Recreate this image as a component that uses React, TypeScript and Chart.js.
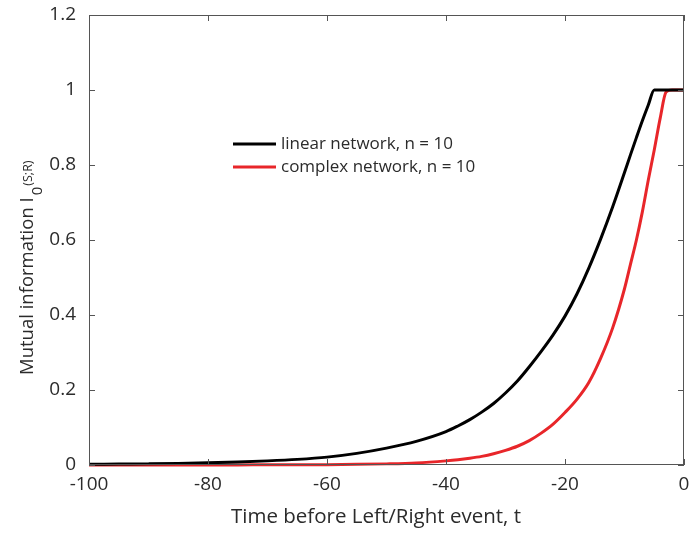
import React, { useEffect, useRef } from "react";
import { Chart, registerables } from "chart.js";

Chart.register(...registerables);

const times = [-100, -95, -90, -85, -80, -75, -70, -65, -60, -55, -50, -45, -40, -38, -36, -34, -32, -30, -28, -26, -24, -22, -20, -18, -16, -14, -12, -10, -9, -8, -7, -6, -5, -4, -3, -2, -1, 0];
const linearValues = [0.002, 0.0025, 0.003, 0.004, 0.006, 0.008, 0.011, 0.015, 0.021, 0.031, 0.045, 0.063, 0.089, 0.104, 0.121, 0.141, 0.164, 0.192, 0.224, 0.262, 0.303, 0.347, 0.397, 0.456, 0.525, 0.603, 0.688, 0.78, 0.827, 0.873, 0.918, 0.96, 1, 1, 1, 1, 1, 1];
const complexValues = [0, 0, 0.0001, 0.0001, 0.0002, 0.0003, 0.0005, 0.0007, 0.001, 0.0017, 0.003, 0.0055, 0.011, 0.014, 0.018, 0.023, 0.03, 0.039, 0.05, 0.065, 0.085, 0.109, 0.14, 0.175, 0.22, 0.285, 0.365, 0.47, 0.535, 0.6, 0.675, 0.76, 0.84, 0.925, 0.995, 1, 1, 1];
const seriesLabels = ["linear network, n = 10", "complex network, n = 10"];
const xTicks = [-100, -80, -60, -40, -20, 0];
const yTicks = [0, 0.2, 0.4, 0.6, 0.8, 1, 1.2];
const xTitle = "Time before Left/Right event, t";
const yTitleMain = "Mutual information I";
const yTitleSub = "0";
const yTitleSup = "(S;R)";

const FONT = "'Open Sans', 'Noto Sans', sans-serif";
const TEXT = "#2b2b2b";
const AXIS = "#555555";

export default function App() {
  const ref = useRef<HTMLCanvasElement | null>(null);

  useEffect(() => {
    document.body.style.margin = "0";
    const canvas = ref.current;
    if (!canvas) return;

    const decor = {
      id: "decor",
      afterDraw(chart: any) {
        const ctx = chart.ctx;
        const a = chart.chartArea;
        const xs = chart.scales.x;
        const ys = chart.scales.y;
        ctx.save();
        // box
        ctx.strokeStyle = AXIS;
        ctx.lineWidth = 1;
        ctx.strokeRect(a.left + 0.5, a.top + 0.5, a.right - a.left - 1, a.bottom - a.top - 1);
        // inward ticks
        ctx.beginPath();
        xTicks.forEach((v) => {
          const px = Math.round(xs.getPixelForValue(v)) + 0.5;
          ctx.moveTo(px, a.bottom);
          ctx.lineTo(px, a.bottom - 6);
          ctx.moveTo(px, a.top);
          ctx.lineTo(px, a.top + 6);
        });
        yTicks.forEach((v) => {
          const py = Math.round(ys.getPixelForValue(v)) + 0.5;
          ctx.moveTo(a.left, py);
          ctx.lineTo(a.left + 6, py);
          ctx.moveTo(a.right, py);
          ctx.lineTo(a.right - 6, py);
        });
        ctx.stroke();

        // x title
        ctx.fillStyle = TEXT;
        ctx.font = `20.5px ${FONT}`;
        ctx.textAlign = "center";
        ctx.textBaseline = "alphabetic";
        ctx.fillText(xTitle, 376, 523);

        // y title (rotated)
        ctx.save();
        ctx.translate(33, 375);
        ctx.rotate(-Math.PI / 2);
        ctx.textAlign = "left";
        ctx.font = `18.5px ${FONT}`;
        ctx.fillText(yTitleMain, 0, 0);
        let w = ctx.measureText(yTitleMain).width + 2;
        ctx.font = `15px ${FONT}`;
        ctx.fillText(yTitleSub, w, 9);
        w += ctx.measureText(yTitleSub).width + 1;
        ctx.font = `12.5px ${FONT}`;
        ctx.fillText(yTitleSup, w, -1);
        ctx.restore();

        // legend
        ctx.font = `17px ${FONT}`;
        ctx.textAlign = "left";
        ctx.textBaseline = "middle";
        chart.data.datasets.forEach((ds: any, i: number) => {
          const y = 144 + i * 23;
          ctx.strokeStyle = ds.borderColor;
          ctx.lineWidth = 3;
          ctx.beginPath();
          ctx.moveTo(233, y);
          ctx.lineTo(276, y);
          ctx.stroke();
          ctx.fillStyle = TEXT;
          ctx.fillText(ds.label, 281, y);
        });
        ctx.restore();
      },
    };

    const chart = new Chart(canvas, {
      type: "line",
      data: {
        datasets: [
          {
            label: seriesLabels[0],
            data: times.map((t, i) => ({ x: t, y: linearValues[i] })),
            borderColor: "#000000",
            borderWidth: 3,
            pointRadius: 0,
            cubicInterpolationMode: "monotone",
            clip: false as any,
          },
          {
            label: seriesLabels[1],
            data: times.map((t, i) => ({ x: t, y: complexValues[i] })),
            borderColor: "#e8262a",
            borderWidth: 3,
            pointRadius: 0,
            cubicInterpolationMode: "monotone",
            clip: false as any,
          },
        ],
      },
      options: {
        animation: false,
        responsive: false,
        devicePixelRatio: 1,
        layout: { padding: { top: 15, right: 6, left: 0, bottom: 0 } },
        plugins: { legend: { display: false }, tooltip: { enabled: false } },
        scales: {
          x: {
            type: "linear",
            min: -100,
            max: 0,
            border: { display: false },
            grid: { display: false, drawTicks: false },
            afterBuildTicks: (s: any) => {
              s.ticks = xTicks.map((v) => ({ value: v }));
            },
            afterFit: (s: any) => {
              s.height = 69;
              s.paddingLeft = 0;
              s.paddingRight = 0;
            },
            ticks: {
              color: TEXT,
              font: { family: FONT, size: 19 },
              padding: 8,
              maxRotation: 0,
              autoSkip: false,
            },
          },
          y: {
            type: "linear",
            min: 0,
            max: 1.2,
            border: { display: false },
            grid: { display: false, drawTicks: false },
            afterBuildTicks: (s: any) => {
              s.ticks = yTicks.map((v) => ({ value: v }));
            },
            afterFit: (s: any) => {
              s.width = 89;
              s.paddingTop = 0;
              s.paddingBottom = 0;
            },
            ticks: {
              color: TEXT,
              font: { family: FONT, size: 19 },
              padding: 13,
              autoSkip: false,
              callback: (v: any) => String(Number(Number(v).toFixed(1))),
            },
          },
        },
      },
      plugins: [decor],
    });

    return () => chart.destroy();
  }, []);

  return (
    <div style={{ position: "absolute", left: 0, top: 0, width: 690, height: 534 }}>
      <canvas ref={ref} width={690} height={534} style={{ display: "block", width: 690, height: 534 }} />
    </div>
  );
}
